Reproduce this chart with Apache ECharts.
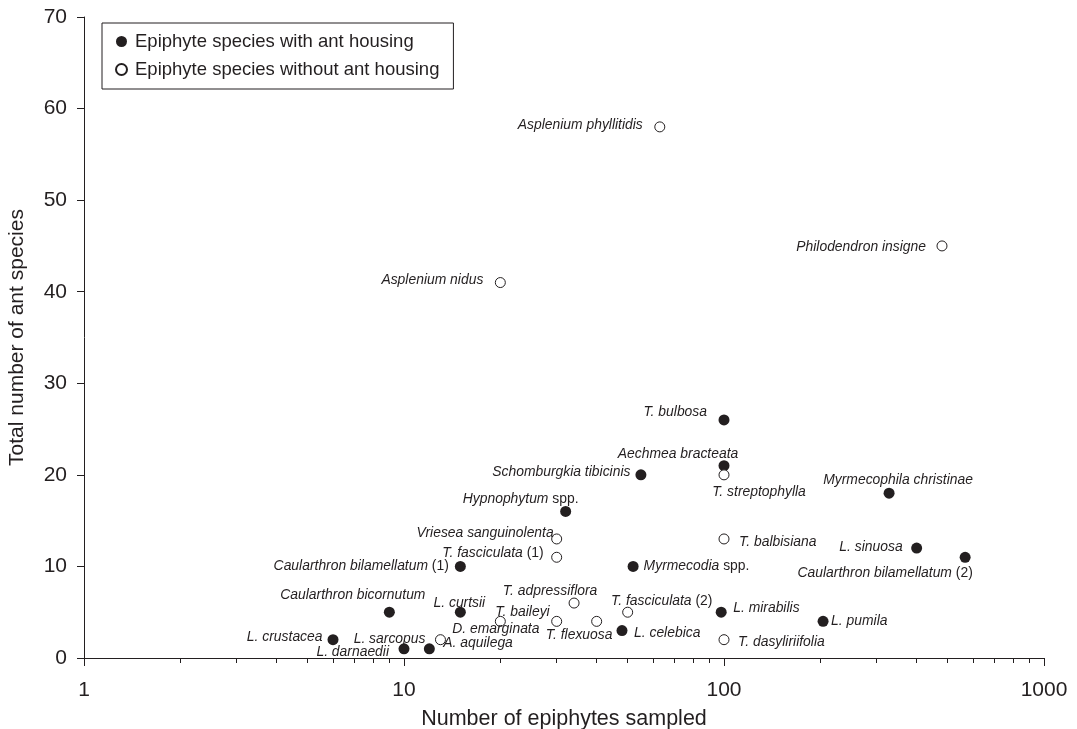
<!DOCTYPE html>
<html>
<head>
<meta charset="utf-8">
<script src="https://cdn.jsdelivr.net/npm/echarts@6/dist/echarts.min.js"></script>
<style>html,body{margin:0;padding:0;background:#fff}#c{width:1077px;height:729px}</style>
</head>
<body>
<div id="c"></div>
<script>
// ---- tick labels ----
const xMajorTicks = [1, 10, 100, 1000];
const xMinorTicks = [2, 3, 4, 5, 6, 7, 8, 9, 20, 30, 40, 50, 60, 70, 80, 90, 200, 300, 400, 500, 600, 700, 800, 900];
const yTicks = [0, 10, 20, 30, 40, 50, 60, 70];

// ---- series: epiphyte species with ant housing ----
const withNames = ['T. bulbosa', 'Aechmea bracteata', 'Schomburgkia tibicinis', 'Hypnophytum spp.',
  'Myrmecophila christinae', 'L. sinuosa', 'Caularthron bilamellatum (2)', 'Caularthron bilamellatum (1)',
  'Myrmecodia spp.', 'Caularthron bicornutum', 'L. curtsii', 'L. mirabilis', 'L. pumila', 'L. celebica',
  'L. crustacea', 'L. darnaedii', 'A. aquilega'];
const withSampled = [100, 100, 55, 32, 328, 400, 567, 15, 52, 9, 15, 98, 204, 48, 6, 10, 12];
const withAnts = [26, 21, 20, 16, 18, 12, 11, 10, 10, 5, 5, 5, 4, 3, 2, 1, 1];

// ---- series: epiphyte species without ant housing ----
const withoutNames = ['Asplenium phyllitidis', 'Philodendron insigne', 'Asplenium nidus', 'T. streptophylla',
  'T. balbisiana', 'Vriesea sanguinolenta', 'T. fasciculata (1)', 'T. adpressiflora', 'T. fasciculata (2)',
  'D. emarginata', 'T. baileyi', 'T. flexuosa', 'L. sarcopus', 'T. dasyliriifolia'];
const withoutSampled = [63, 480, 20, 100, 100, 30, 30, 34, 50, 20, 30, 40, 13, 100];
const withoutAnts = [58, 45, 41, 20, 13, 13, 11, 6, 5, 4, 4, 4, 2, 2];

// ---- label placement (style only): [position, dx, dy] ----
const labelPlacement = {
  'T. bulbosa': ['left', -6.5, -8],
  'Aechmea bracteata': ['top', -46, 6],
  'Schomburgkia tibicinis': ['left', 0, -3],
  'Hypnophytum spp.': ['top', -45, 5.5],
  'Myrmecophila christinae': ['top', 9, 4.5],
  'L. sinuosa': ['left', -3.5, -1],
  'Caularthron bilamellatum (2)': ['bottom', -80, -1.5],
  'Caularthron bilamellatum (1)': ['left', -1, 0],
  'Myrmecodia spp.': ['right', 0, 0],
  'Caularthron bicornutum': ['top', -36.5, 0],
  'L. curtsii': ['top', -1, 8.5],
  'L. mirabilis': ['right', 1.5, -4],
  'L. pumila': ['right', -2.5, 0],
  'L. celebica': ['right', 1.5, 3],
  'L. crustacea': ['left', 0, -3],
  'L. darnaedii': ['left', -4.5, 3],
  'A. aquilega': ['right', 3.5, -6],
  'Asplenium phyllitidis': ['left', -6.5, -2],
  'Philodendron insigne': ['left', -5.5, 1],
  'Asplenium nidus': ['left', -6.5, -2],
  'T. streptophylla': ['bottom', 35, 0],
  'T. balbisiana': ['right', 4.5, 3],
  'Vriesea sanguinolenta': ['left', 7.5, -6],
  'T. fasciculata (1)': ['left', -2.5, -4],
  'T. adpressiflora': ['top', -24, 5.5],
  'T. fasciculata (2)': ['top', 34, 6.5],
  'D. emarginata': ['bottom', -4.5, -9.5],
  'T. baileyi': ['left', 3.5, -9],
  'T. flexuosa': ['bottom', -17.5, -3.5],
  'L. sarcopus': ['left', -4.5, -1],
  'T. dasyliriifolia': ['right', 3.5, 2]
};

const INK = '#231f20';
const FONT = '"Liberation Sans", Arial, Helvetica, sans-serif';
const seriesNames = [withNames, withoutNames];

function labelFormatter(p) {
  const m = p.name.match(/^(.*?)\s(\(\d\)|spp\.)$/);
  if (m) return '{i|' + m[1] + '} {n|' + m[2] + '}';
  return '{i|' + p.name + '}';
}

function buildData(names, xs, ys) {
  return names.map((n, k) => {
    const pl = labelPlacement[n] || ['right', 0, 0];
    return { name: n, value: [xs[k], ys[k]], label: { position: pl[0] } };
  });
}

function layoutFn(params) {
  const n = seriesNames[params.seriesIndex][params.dataIndex];
  const pl = labelPlacement[n] || ['right', 0, 0];
  return { dx: pl[1], dy: pl[2], hideOverlap: false };
}

const labelStyle = {
  show: true,
  formatter: labelFormatter,
  distance: 5,
  color: INK,
  fontFamily: FONT,
  fontSize: 13.9,
  lineHeight: 14,
  rich: {
    i: { fontStyle: 'italic', fontSize: 13.9, fontFamily: FONT, color: INK, lineHeight: 14 },
    n: { fontStyle: 'normal', fontSize: 13.9, fontFamily: FONT, color: INK, lineHeight: 14 }
  }
};

const chart = echarts.init(document.getElementById('c'), null, { renderer: 'canvas' });
chart.setOption({
  animation: false,
  backgroundColor: '#fff',
  textStyle: { fontFamily: FONT, color: INK },
  grid: { left: 84, right: 33, top: 17, bottom: 71, containLabel: false, outerBoundsMode: 'none' },
  legend: {
    orient: 'vertical',
    left: 102,
    top: 23,
    padding: [9, 14, 10, 13],
    itemGap: 9,
    itemWidth: 11,
    itemHeight: 11,
    borderColor: INK,
    borderWidth: 1,
    borderRadius: 0,
    backgroundColor: '#fff',
    textStyle: { fontSize: 18.5, color: INK, fontFamily: FONT, padding: [0, 0, 0, 3] },
    data: [
      { name: 'Epiphyte species with ant housing', icon: 'circle' },
      { name: 'Epiphyte species without ant housing', icon: 'circle' }
    ]
  },
  xAxis: [
    {
      type: 'log',
      logBase: 10,
      min: 1,
      max: 1000,
      position: 'bottom',
      name: 'Number of epiphytes sampled',
      nameLocation: 'middle',
      nameGap: 50,
      nameTextStyle: { fontSize: 21.5, color: INK, fontFamily: FONT },
      axisLine: { show: true, onZero: false, lineStyle: { color: INK, width: 1 } },
      axisTick: { show: true, inside: false, length: 8, customValues: xMajorTicks, lineStyle: { color: INK, width: 1 } },
      axisLabel: { show: true, customValues: xMajorTicks, margin: 22, fontSize: 21, color: INK, fontFamily: FONT,
        showMinLabel: true, showMaxLabel: true, formatter: v => String(Math.round(v)) },
      splitLine: { show: false },
      minorTick: { show: false },
      minorSplitLine: { show: false }
    },
    {
      type: 'log',
      logBase: 10,
      min: 1,
      max: 1000,
      position: 'bottom',
      offset: 0,
      axisLine: { show: false },
      axisTick: { show: true, inside: false, length: 5, customValues: xMinorTicks, lineStyle: { color: INK, width: 1 } },
      axisLabel: { show: false },
      splitLine: { show: false }
    }
  ],
  yAxis: {
    type: 'value',
    min: 0,
    max: 70,
    interval: 10,
    name: 'Total number of ant species',
    nameLocation: 'middle',
    nameGap: 56,
    nameTextStyle: { fontSize: 21, color: INK, fontFamily: FONT },
    axisLine: { show: true, onZero: false, lineStyle: { color: INK, width: 1 } },
    axisTick: { show: true, inside: false, length: 7, lineStyle: { color: INK, width: 1 } },
    axisLabel: { margin: 17, fontSize: 21, color: INK, fontFamily: FONT, showMinLabel: true, showMaxLabel: true,
      customValues: yTicks },
    splitLine: { show: false }
  },
  series: [
    {
      name: 'Epiphyte species with ant housing',
      type: 'scatter',
      xAxisIndex: 0,
      symbol: 'circle',
      symbolSize: 11,
      itemStyle: { color: INK, borderColor: INK, borderWidth: 0, opacity: 1 },
      label: labelStyle,
      labelLayout: layoutFn,
      emphasis: { disabled: true },
      data: buildData(withNames, withSampled, withAnts),
      z: 3
    },
    {
      name: 'Epiphyte species without ant housing',
      type: 'scatter',
      xAxisIndex: 0,
      symbol: 'circle',
      symbolSize: 10,
      itemStyle: { color: '#ffffff', borderColor: INK, borderWidth: 1, opacity: 1 },
      label: labelStyle,
      labelLayout: layoutFn,
      emphasis: { disabled: true },
      data: buildData(withoutNames, withoutSampled, withoutAnts),
      z: 4
    }
  ]
});
</script>
</body>
</html>
